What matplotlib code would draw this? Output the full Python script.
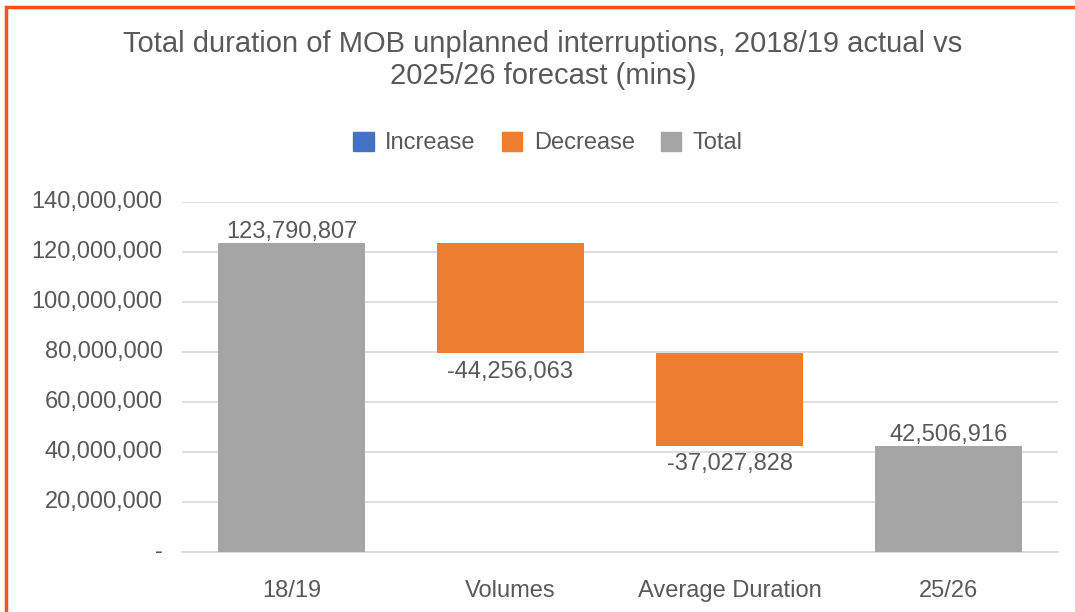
import matplotlib.pyplot as plt
from matplotlib.patches import Rectangle, Patch

categories = ["18/19", "Volumes", "Average Duration", "25/26"]
values = [123790807, -44256063, -37027828, 42506916]
kinds = ["Total", "Decrease", "Decrease", "Total"]
y_ticks = [0, 20000000, 40000000, 60000000, 80000000, 100000000, 120000000, 140000000]

colors = {"Increase": "#4472C4", "Decrease": "#ED7D31", "Total": "#A5A5A5"}
text_col = "#595959"

plt.rcParams['font.family'] = ['Liberation Sans', 'DejaVu Sans']

fig = plt.figure(figsize=(10.75, 6.12), dpi=100)
ax = fig.add_axes([182 / 1075, 1 - 552 / 612, 876 / 1075, 350 / 612])

# waterfall: totals start at zero, changes float from the running level
running = 0
bottoms, heights = [], []
for v, k in zip(values, kinds):
    if k == "Total":
        bottoms.append(0)
        heights.append(v)
        running = v
    else:
        new = running + v
        bottoms.append(min(running, new))
        heights.append(abs(v))
        running = new

x = range(len(categories))
ax.bar(x, heights, bottom=bottoms, width=0.667,
       color=[colors[k] for k in kinds], zorder=3)

for i, (v, k, b, h) in enumerate(zip(values, kinds, bottoms, heights)):
    label = f"{v:,}"
    if v >= 0:
        ax.text(i, b + h + 0, label, ha="center", va="bottom",
                fontsize=17, color=text_col)
    else:
        ax.text(i, b - 3000000, label, ha="center", va="top",
                fontsize=17, color=text_col)

ax.set_xlim(-0.5, 3.5)
ax.set_ylim(0, 140000000)
ax.set_yticks(y_ticks)
ax.set_yticklabels(["-" if t == 0 else f"{t:,}" for t in y_ticks])
ax.set_xticks(list(x))
ax.set_xticklabels(categories)
ax.tick_params(axis="y", length=0, pad=14, labelsize=17, labelcolor=text_col)
ax.tick_params(axis="x", length=0, pad=20, labelsize=17, labelcolor=text_col)
for lbl in ax.get_yticklabels():
    lbl.set_verticalalignment("center")
ax.grid(axis="y", color="#D9D9D9", linewidth=1.2, zorder=0)
for side in ["top", "right", "left"]:
    ax.spines[side].set_visible(False)
ax.spines["bottom"].set_color("#D9D9D9")
ax.spines["bottom"].set_linewidth(1.2)

fig.text(543 / 1075, 1 - 60 / 612,
         "Total duration of MOB unplanned interruptions, 2018/19 actual vs\n2025/26 forecast (mins)",
         ha="center", va="center", fontsize=21, color=text_col, linespacing=1.2)

handles = [Patch(color=colors[k]) for k in ["Increase", "Decrease", "Total"]]
fig.legend(handles, ["Increase", "Decrease", "Total"], loc="center",
           bbox_to_anchor=(548 / 1075, 1 - 143 / 612), ncol=3, frameon=False,
           fontsize=17, labelcolor=text_col, handlelength=0.85, handleheight=0.85,
           handletextpad=0.5, columnspacing=1.1)

# outer frame
fig.patches.append(Rectangle((6 / 1075, -0.05), 1.2, 1 - 7 / 612 + 0.05,
                             transform=fig.transFigure, fill=False,
                             edgecolor="#FF4F1F", linewidth=2.5))

fig.savefig("out.png", dpi=100)
